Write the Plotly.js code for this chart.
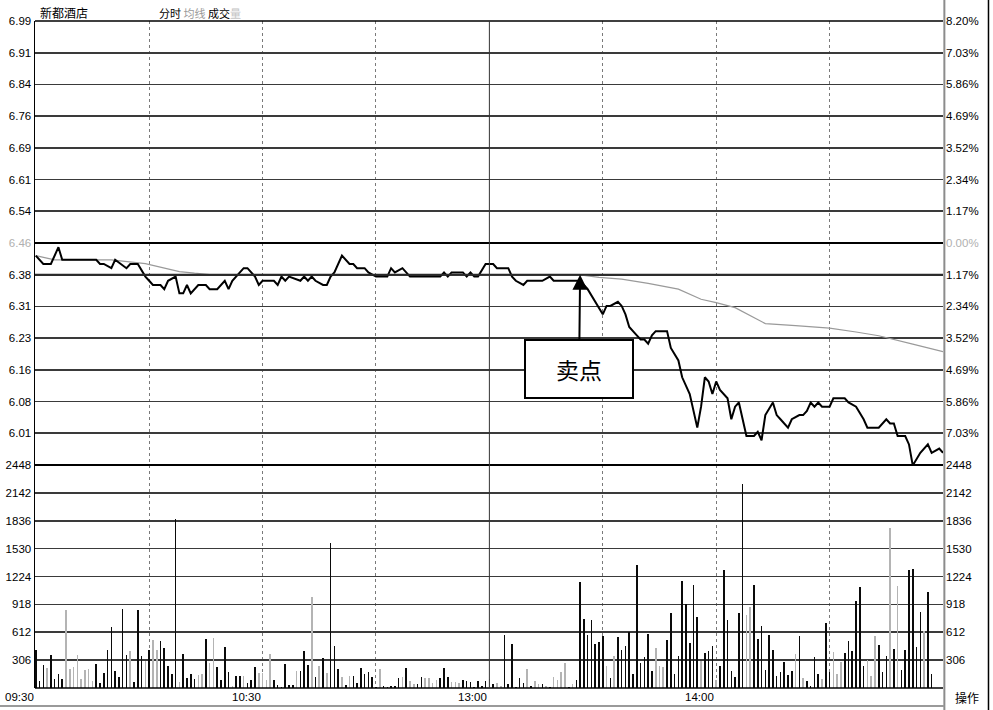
<!DOCTYPE html>
<html><head><meta charset="utf-8">
<script src="https://cdn.plot.ly/plotly-3.0.1.min.js"></script>
<style>html,body{margin:0;padding:0;background:#fff}#chart{width:993px;height:710px}</style>
</head><body><div id="chart"></div>
<script>
// ---------- data ----------
const stockName = "新都酒店";
const preClose = 6.46;
const pctStep = 0.0117;            // 1.17% per grid row
const gridRows = [-6,-5,-4,-3,-2,-1,0,1,2,3,4,5,6,7];
const leftPriceLabels = ["6.01","6.08","6.16","6.23","6.31","6.38","6.46","6.54","6.61","6.69","6.76","6.84","6.91","6.99"];
const rightPctLabels  = ["7.03%","5.86%","4.69%","3.52%","2.34%","1.17%","0.00%","1.17%","2.34%","3.52%","4.69%","5.86%","7.03%","8.20%"];
const volTickVals = [306,612,918,1224,1530,1836,2142,2448];
const volTickLabels = ["306","612","918","1224","1530","1836","2142","2448"];
const timeGridMin = [30,60,90,150,180,210];
const timeLabelMin = [0,60,120,180];
const timeLabels = ["09:30","10:30","13:00","14:00"];
const sellPointMin = 144;
const sellPointLabel = "卖点";

// price line (minute index from 09:30, price)
const priceT = [0,2,4,6,7,16,17,18,20,21,24,25,27,29,30,31,33,34,35,37,38,39,40,41,43,45,46,48,50,51,52,53,55,56,58,59,60,63,64,65,66,67,70,71,72,73,74,76,77,78,79,81,83,84,85,87,88,90,93,94,95,97,99,103,107,108,109,110,113,114,115,116,117,119,121,122,125,126,127,129,130,134,136,137,144,146,148,150,151,152,154,155,156,157,159,160,161,162,163,164,167,168,170,171,173,174,175,176,177,178,179,180,181,183,184,185,186,187,188,190,191,192,193,195,196,197,199,200,202,203,204,205,206,207,208,210,211,214,215,217,219,220,223,225,226,227,228,230,231,232,234,236,237,239,240];
const priceV = [6.43,6.41,6.41,6.45,6.42,6.42,6.41,6.41,6.40,6.42,6.40,6.41,6.41,6.38,6.37,6.36,6.36,6.35,6.37,6.38,6.34,6.34,6.36,6.34,6.36,6.36,6.35,6.35,6.37,6.35,6.37,6.38,6.40,6.40,6.38,6.36,6.37,6.37,6.36,6.38,6.37,6.38,6.37,6.38,6.37,6.38,6.37,6.36,6.36,6.38,6.39,6.43,6.41,6.41,6.40,6.40,6.39,6.38,6.38,6.40,6.39,6.40,6.38,6.38,6.38,6.39,6.38,6.39,6.39,6.38,6.39,6.38,6.38,6.41,6.41,6.40,6.40,6.38,6.37,6.36,6.37,6.37,6.38,6.37,6.37,6.35,6.32,6.29,6.31,6.31,6.32,6.31,6.29,6.26,6.24,6.23,6.23,6.22,6.24,6.25,6.25,6.21,6.18,6.14,6.10,6.06,6.02,6.07,6.14,6.13,6.10,6.13,6.11,6.09,6.04,6.07,6.08,6.04,6.00,6.00,6.01,5.99,6.05,6.08,6.05,6.04,6.02,6.04,6.05,6.05,6.06,6.08,6.07,6.08,6.07,6.07,6.09,6.09,6.08,6.07,6.04,6.02,6.02,6.04,6.03,6.03,6.00,6.00,5.98,5.93,5.96,5.98,5.96,5.97,5.96];

// average price line
const avgT = [0,5,17,20,29,33,38,42,46,80,110,144,149,155,162,170,176,180,185,190,193,201,210,217,223,232,240];
const avgV = [6.43,6.42,6.42,6.42,6.411,6.403,6.392,6.388,6.385,6.385,6.385,6.384,6.378,6.374,6.364,6.35,6.326,6.318,6.306,6.282,6.268,6.263,6.257,6.248,6.239,6.219,6.201];

// volume per minute and bar tone (1 = dark, 0 = light)
const volume = [415,73,250,220,363,103,154,103,851,209,231,363,99,202,209,73,264,55,165,422,668,183,117,870,367,411,66,851,356,300,422,532,422,514,440,239,158,1853,62,374,106,158,99,147,154,543,275,547,231,84,451,180,26,136,128,136,55,92,228,165,165,92,378,84,29,15,264,37,37,191,183,411,253,998,121,246,327,165,
1589,466,209,121,29,136,128,55,220,158,180,121,11,209,18,15,18,26,106,117,220,73,48,44,117,106,106,55,84,106,220,117,66,66,55,84,73,62,7,73,26,73,103,44,55,18,580,44,484,11,106,55,209,18,73,48,48,18,15,117,84,176,275,15,44,84,1163,763,587,752,488,503,569,246,106,349,565,422,466,617,158,1354,275,338,598,191,440,
239,228,532,826,154,356,1174,925,495,1127,778,294,385,411,459,84,246,1292,752,183,117,818,2239,800,892,1127,539,686,202,580,422,136,172,286,139,183,378,569,106,73,26,338,158,99,716,180,396,158,283,385,514,411,954,1108,246,312,128,569,477,172,349,1762,429,1119,202,415,1292,1303,451,833,624,1053,158];
const volTone = [1,1,1,0,1,1,1,1,0,0,0,0,0,0,0,0,1,1,1,1,1,1,1,1,1,0,1,1,1,0,1,0,0,1,1,1,1,1,0,1,1,1,1,0,0,1,0,0,1,1,1,1,0,1,1,0,1,1,1,0,0,0,0,1,1,1,1,1,1,0,1,1,1,0,1,0,1,0,
1,1,1,0,1,0,1,1,1,1,1,1,1,0,1,1,1,1,1,0,1,0,0,1,1,0,0,0,0,1,1,1,0,0,0,1,1,1,1,1,1,1,0,1,0,0,1,1,1,1,1,1,0,1,0,0,1,0,1,0,0,0,0,1,0,1,1,1,1,1,1,1,1,0,1,0,1,1,1,1,1,1,1,1,1,1,0,
0,0,1,1,1,1,1,1,1,1,1,0,1,1,1,0,1,1,1,1,1,1,1,0,0,1,1,1,1,1,1,1,1,1,1,1,0,1,0,1,1,1,1,0,1,1,0,0,0,1,1,1,1,1,1,0,0,0,1,1,1,0,1,0,1,1,1,1,1,1,0,1,1];

// ---------- build ----------
const priceTicks = gridRows.map(k => preClose * (1 + k * pctStep));
const pLo = preClose * (1 - 7 * pctStep) - 1e-6;
const pHi = preClose * (1 + 7 * pctStep) + 1e-6;
const volMax = 2448;
const volT = volume.map((v, i) => i);
const volColors = volTone.map(t => t ? '#0a0a0a' : '#b4b4b4');
const grey = '#b0b0b0';
const leftText = leftPriceLabels.map((s, i) => gridRows[i] === 0 ? `<span style="color:${grey}">${s}</span>` : s);
const rightText = rightPctLabels.map((s, i) => gridRows[i] === 0 ? `<span style="color:${grey}">${s}</span>` : s);

const volFrac = 0.3343;
const cjk = '"Noto Sans CJK SC", "Noto Sans", sans-serif';

const traces = [
  {x: avgT, y: avgV, xaxis: 'x', yaxis: 'y', type: 'scatter', mode: 'lines',
   line: {color: '#9a9a9a', width: 1.2}, hoverinfo: 'skip'},
  {x: priceT, y: priceV, xaxis: 'x', yaxis: 'y', type: 'scatter', mode: 'lines',
   line: {color: '#000', width: 2}, hoverinfo: 'skip'},
  {x: [], y: [], xaxis: 'x', yaxis: 'y2', type: 'scatter', mode: 'lines', hoverinfo: 'skip'},
  {x: volT, y: volume, xaxis: 'x2', yaxis: 'y3', type: 'bar', width: 0.42,
   marker: {color: volColors, line: {width: 0}}, hoverinfo: 'skip'},
  {x: [], y: [], xaxis: 'x2', yaxis: 'y4', type: 'scatter', mode: 'lines', hoverinfo: 'skip'}
];

const xBase = {range: [-0.2, 240], tickvals: timeGridMin, showticklabels: false, ticks: '',
  showgrid: true, gridcolor: '#7a7a7a', griddash: 'dot', gridwidth: 1, zeroline: false, showline: false, fixedrange: true};
const yGrid = {ticks: '', showgrid: true, gridcolor: '#3a3a3a', gridwidth: 1.7, zeroline: false, fixedrange: true,
  tickfont: {size: 11.5, color: '#000'}};

const layout = {
  width: 993, height: 710,
  margin: {l: 35, r: 50, t: 21, b: 22, pad: 0},
  paper_bgcolor: '#fff', plot_bgcolor: '#fff',
  showlegend: false, bargap: 0,
  font: {family: '"Liberation Sans", Arial, sans-serif', size: 11.5, color: '#000'},
  xaxis: Object.assign({}, xBase, {domain: [0, 1], anchor: 'y'}),
  xaxis2: Object.assign({}, xBase, {domain: [0, 1], anchor: 'y3', matches: 'x'}),
  yaxis: Object.assign({}, yGrid, {domain: [volFrac, 1], range: [pLo, pHi], tickvals: priceTicks, ticktext: leftText,
    side: 'left', showline: true, linecolor: '#000', linewidth: 1.5}),
  yaxis2: {overlaying: 'y', side: 'right', range: [pLo, pHi], tickvals: priceTicks, ticktext: rightText,
    ticks: '', showgrid: false, zeroline: false, showline: false, fixedrange: true, tickfont: {size: 11.5, color: '#000'},
    ticklabelstandoff: 2},
  yaxis3: Object.assign({}, yGrid, {domain: [0, volFrac], range: [0, volMax + 0.01], tickvals: volTickVals, ticktext: volTickLabels,
    side: 'left', showline: true, linecolor: '#000', linewidth: 1.5}),
  yaxis4: {overlaying: 'y3', side: 'right', range: [0, volMax + 0.01], tickvals: volTickVals, ticktext: volTickLabels,
    ticks: '', showgrid: false, zeroline: false, showline: false, fixedrange: true, tickfont: {size: 11.5, color: '#000'},
    ticklabelstandoff: 2},
  shapes: [
    {type: 'line', xref: 'paper', x0: 0, x1: 1, yref: 'y', y0: preClose, y1: preClose, line: {color: '#000', width: 2}},
    {type: 'line', xref: 'paper', x0: 0, x1: 1, yref: 'y', y0: priceTicks[5], y1: priceTicks[5], layer: 'above', line: {color: '#2a2a2a', width: 1.8}},
    {type: 'line', xref: 'paper', x0: 0, x1: 1, yref: 'y domain', y0: 1, y1: 1, line: {color: '#000', width: 1.6}},
    {type: 'line', xref: 'paper', x0: 0, x1: 1, yref: 'y3 domain', y0: 1, y1: 1, line: {color: '#000', width: 2}},
    {type: 'line', xref: 'paper', x0: 0, x1: 1, yref: 'y3 domain', y0: 0, y1: 0, line: {color: '#000', width: 1.5}},
    {type: 'line', xref: 'x', x0: 120, x1: 120, yref: 'paper', y0: 0, y1: 1, line: {color: '#333', width: 1}},
    {type: 'line', xref: 'paper', x0: 1.0015, x1: 1.0015, yref: 'paper', y0: -0.04, y1: 1.04, line: {color: '#8c8c8c', width: 2}},
    {type: 'line', xref: 'paper', x0: 1.0501, x1: 1.0501, yref: 'paper', y0: -0.04, y1: 1.04, line: {color: '#000', width: 1.5}},
    {type: 'line', xref: 'paper', x0: -0.04, x1: 1.0015, yref: 'paper', y0: -0.027, y1: -0.027, line: {color: '#9a9a9a', width: 2}}
  ],
  annotations: [
    {xref: 'paper', yref: 'paper', x: 0.0033, y: 1.012, xanchor: 'left', yanchor: 'middle', showarrow: false,
     text: stockName, font: {family: cjk, size: 12, color: '#000'}},
    {xref: 'paper', yref: 'paper', x: 0.1344, y: 1.012, xanchor: 'left', yanchor: 'middle', showarrow: false,
     text: '分时 <span style="color:#9a9a9a">均线</span> 成交<span style="color:#c4c4c4">量</span>',
     font: {family: cjk, size: 11, color: '#000'}},
    {xref: 'paper', yref: 'paper', x: 1.0264, y: -0.0135, xanchor: 'center', yanchor: 'middle', showarrow: false,
     text: '操作', font: {family: cjk, size: 12, color: '#000'}},
    {xref: 'x', yref: 'y', x: sellPointMin, y: priceTicks[5], ax: -1, ay: 94, axref: 'pixel', ayref: 'pixel',
     showarrow: true, arrowhead: 2, arrowsize: 1.5, arrowwidth: 2, arrowcolor: '#000',
     text: sellPointLabel, font: {family: cjk, size: 23, color: '#000'},
     width: 106, height: 56, bgcolor: '#fff', bordercolor: '#000', borderwidth: 2, borderpad: 0, align: 'center', valign: 'middle'}
  ].concat(timeLabelMin.map((t, i) => ({
     xref: 'x2', yref: 'paper', x: t, y: -0.0135, xanchor: 'right', yanchor: 'middle', showarrow: false,
     text: timeLabels[i], font: {size: 11.5, color: '#000'}})))
};

Plotly.newPlot('chart', traces, layout, {staticPlot: true, displayModeBar: false});
</script>
</body></html>
